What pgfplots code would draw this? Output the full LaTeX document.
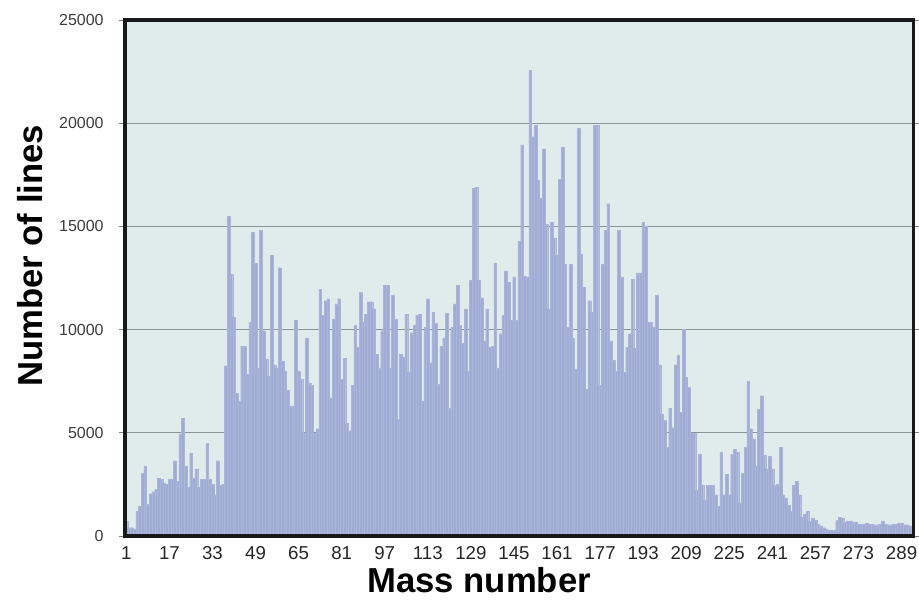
\documentclass[border=0pt]{standalone}
\usepackage{pgfplots}
\usepackage{pgfplotstable}
\pgfplotsset{compat=1.18}
\usepackage{fontspec}
\setmainfont{Liberation Sans}
\definecolor{barc}{RGB}{160,172,211}
\definecolor{barl}{RGB}{170,181,217}
\definecolor{bgc}{RGB}{224,235,236}
\definecolor{gridc}{RGB}{135,150,150}
\definecolor{tickc}{RGB}{60,60,60}
\pgfplotstableread{
m v
1 700
2 400
3 400
4 350
5 1200
6 1450
7 3050
8 3400
9 1550
10 2050
11 2150
12 2250
13 2800
14 2750
15 2550
16 2500
17 2750
18 2750
19 3650
20 2650
21 4950
22 5700
23 3400
24 2350
25 4000
26 2800
27 3250
28 2350
29 2750
30 2750
31 4500
32 2750
33 2500
34 2000
35 3650
36 2450
37 2500
38 8250
39 15500
40 12700
41 10600
42 6900
43 6550
44 9200
45 9200
46 7850
47 10350
48 14700
49 13200
50 8150
51 14800
52 9950
53 8550
54 7750
55 13600
56 8300
57 8150
58 13000
59 8450
60 8000
61 7050
62 6300
63 6300
64 10450
65 8000
66 7600
67 5000
68 9600
69 7400
70 7300
71 5000
72 5200
73 11950
74 10700
75 11400
76 11500
77 6700
78 10500
79 11250
80 11500
81 7600
82 8600
83 5450
84 5100
85 7300
86 10200
87 9150
88 11800
89 10350
90 10750
91 11350
92 11350
93 11000
94 8800
95 8150
96 9950
97 12150
98 12150
99 8150
100 11650
101 10500
102 5650
103 8800
104 8650
105 10750
106 7950
107 9850
108 10200
109 10700
110 10750
111 6550
112 10100
113 11500
114 8400
115 10850
116 10300
117 7350
118 9200
119 9600
120 10800
121 6200
122 10100
123 11250
124 12150
125 10200
126 9350
127 11000
128 8000
129 12400
130 16850
131 16900
132 12400
133 11550
134 9450
135 11000
136 9150
137 9200
138 13200
139 8150
140 9800
141 10700
142 12850
143 12300
144 10450
145 12550
146 10450
147 14300
148 18950
149 12600
150 12550
151 22550
152 19350
153 19900
154 17250
155 16350
156 18750
157 15100
158 11000
159 15200
160 14450
161 13600
162 17300
163 18850
164 13150
165 10100
166 13150
167 9600
168 8100
169 19750
170 13650
171 12050
172 7100
173 11400
174 10850
175 19900
176 19900
177 7300
178 13150
179 14800
180 16100
181 9450
182 8500
183 8000
184 14800
185 12550
186 7930
187 9150
188 9800
189 12450
190 9100
191 12750
192 12750
193 15200
194 15000
195 10350
196 10350
197 10100
198 11650
199 8300
200 5900
201 5600
202 4300
203 6200
204 5250
205 8300
206 8750
207 6000
208 10000
209 7700
210 7200
211 5000
212 5000
213 2200
214 3950
215 2450
216 1750
217 2450
218 2450
219 2450
220 2000
221 1450
222 4050
223 2000
224 3000
225 2000
226 3950
227 4200
228 4050
229 1600
230 3050
231 4300
232 7500
233 5200
234 4700
235 3400
236 6150
237 6800
238 3900
239 3250
240 3850
241 3250
242 2450
243 2500
244 4300
245 2000
246 1850
247 1500
248 1200
249 2450
250 2650
251 2000
252 900
253 1050
254 1200
255 700
256 880
257 780
258 560
259 500
260 400
261 350
262 300
263 300
264 280
265 750
266 920
267 880
268 650
269 730
270 730
271 650
272 680
273 580
274 580
275 580
276 620
277 580
278 580
279 550
280 550
281 580
282 730
283 580
284 550
285 550
286 580
287 580
288 630
289 630
290 550
291 550
292 500
293 480
}\massdata
\begin{document}
\begin{tikzpicture}
\begin{axis}[
  scale only axis,
  width=591.5pt, height=387pt,
  xmin=0.5, xmax=293.5,
  ymin=0, ymax=25000,
  axis background/.style={fill=bgc},
  ytick={0,5000,10000,15000,20000,25000},
  xtick={1,17,33,49,65,81,97,113,129,145,161,177,193,209,225,241,257,273,289},
  scaled y ticks=false,
  /pgf/number format/assume math mode=true,
  yticklabel style={/pgf/number format/1000 sep={}, font=\fontsize{12}{12}\selectfont, text=tickc, xshift=-8pt},
  xticklabel style={font=\fontsize{14}{14}\selectfont, text=black!85, yshift=0pt},
  ymajorgrids,
  grid style={gridc, line width=1pt},
  tick align=outside,
  ytick style={draw=gray, line width=0.6pt},
  major tick length=4.5pt,
  xtick style={draw=none},
  axis line style={draw=none},
  ylabel={\bfseries Number of lines},
  xlabel={\bfseries Mass number},
  ylabel style={font=\fontsize{26}{26}\selectfont, at={(axis description cs:-0.12,0.543)}, anchor=center, rotate=0},
  xlabel style={font=\fontsize{26}{26}\selectfont, at={(axis description cs:0.449,-0.085)}, anchor=center},
  clip=true,
]
\addplot[ybar, bar width=1, bar shift=0pt, fill=barc, draw=barl, line width=0.15pt] table[x=m, y=v] {\massdata};
\coordinate (sw) at (rel axis cs:0,0);
\coordinate (ne) at (rel axis cs:1,1);
\end{axis}
\draw[line width=2.6pt, black!90] (sw) rectangle (ne);
\pgfresetboundingbox
\path ([xshift=-93.75pt,yshift=-47.25pt]sw) rectangle ([xshift=4pt,yshift=15pt]ne);
\end{tikzpicture}
\end{document}
